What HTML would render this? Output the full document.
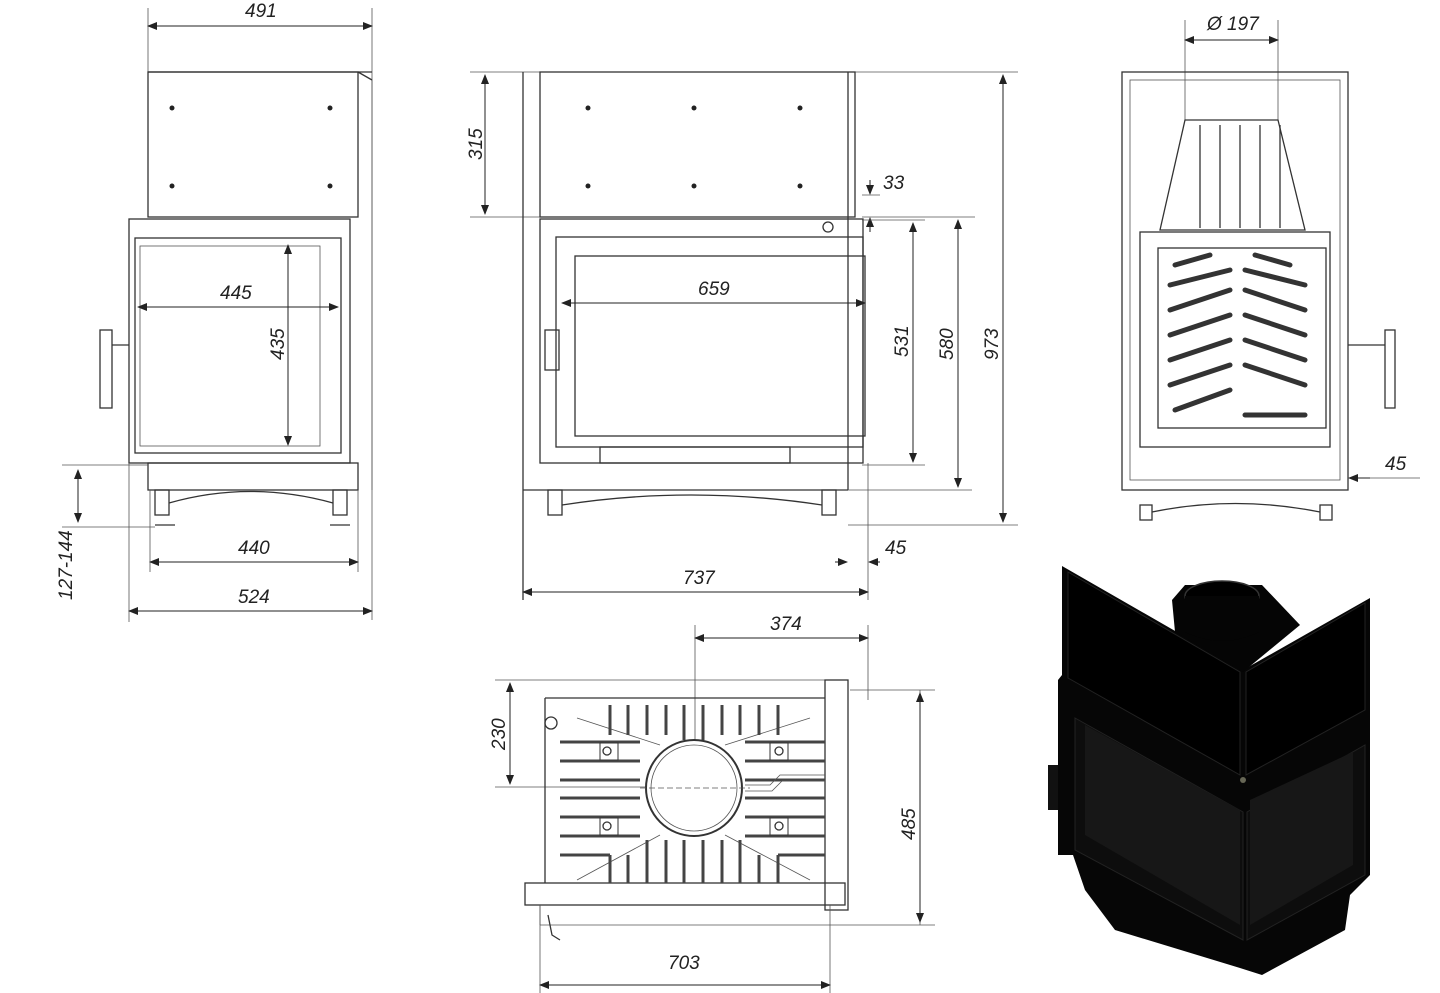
<!DOCTYPE html>
<html><head><meta charset="utf-8"><style>
html,body{margin:0;padding:0;background:#fff}
svg{display:block}
text{font-family:"Liberation Sans",sans-serif;font-style:italic;font-size:19px;fill:#222}
.l{stroke:#333;stroke-width:1.3;fill:none}
.t{stroke:#555;stroke-width:0.8;fill:none}
.d{stroke:#222;stroke-width:1;fill:none}
.f{stroke:#444;stroke-width:3;fill:none}
</style></head><body>
<svg width="1440" height="993" viewBox="0 0 1440 993" xmlns="http://www.w3.org/2000/svg">
<defs><marker id="a" markerWidth="10" markerHeight="8" refX="9" refY="4" orient="auto-start-reverse"><path d="M0,0 L10,4 L0,8z" fill="#222"/></marker></defs>

<!-- LEFT VIEW -->
<g>
<line class="t" x1="148" y1="8" x2="148" y2="72"/><line class="t" x1="372" y1="8" x2="372" y2="620"/>
<line class="d" x1="148" y1="26" x2="372" y2="26" marker-start="url(#a)" marker-end="url(#a)"/>
<text x="245" y="17">491</text>
<rect class="l" x="148" y="72" width="210" height="145"/>
<line class="l" x1="148" y1="72" x2="372" y2="72"/>
<line class="l" x1="358" y1="72" x2="372" y2="80"/>
<line class="t" x1="372" y1="80" x2="372" y2="490"/>
<g fill="#222"><circle cx="172" cy="108" r="2.5"/><circle cx="330" cy="108" r="2.5"/><circle cx="172" cy="186" r="2.5"/><circle cx="330" cy="186" r="2.5"/></g>
<rect class="l" x="129" y="219" width="221" height="244"/>
<rect class="l" x="135" y="238" width="206" height="215"/>
<rect class="t" x="140" y="246" width="180" height="200"/>
<rect class="l" x="100" y="330" width="12" height="78"/>
<line class="l" x1="112" y1="345" x2="129" y2="345"/>
<line class="d" x1="138" y1="307" x2="338" y2="307" marker-start="url(#a)" marker-end="url(#a)"/>
<text x="220" y="299">445</text>
<line class="d" x1="288" y1="245" x2="288" y2="445" marker-start="url(#a)" marker-end="url(#a)"/>
<text x="0" y="0" transform="translate(284,360) rotate(-90)">435</text>
<rect class="l" x="148" y="463" width="210" height="27"/>
<rect class="l" x="155" y="490" width="14" height="25"/><rect class="l" x="333" y="490" width="14" height="25"/>
<path class="l" d="M169,503 Q250,480 333,503"/>
<line class="l" x1="155" y1="525" x2="175" y2="525"/><line class="l" x1="330" y1="525" x2="350" y2="525"/>
<line class="t" x1="62" y1="465" x2="148" y2="465"/><line class="t" x1="62" y1="527" x2="155" y2="527"/>
<line class="d" x1="78" y1="470" x2="78" y2="522" marker-start="url(#a)" marker-end="url(#a)"/>
<text transform="translate(72,600) rotate(-90)">127-144</text>
<line class="t" x1="150" y1="490" x2="150" y2="572"/><line class="t" x1="358" y1="490" x2="358" y2="572"/>
<line class="d" x1="150" y1="562" x2="358" y2="562" marker-start="url(#a)" marker-end="url(#a)"/>
<text x="238" y="554">440</text>
<line class="t" x1="129" y1="463" x2="129" y2="622"/>
<line class="d" x1="129" y1="611" x2="372" y2="611" marker-start="url(#a)" marker-end="url(#a)"/>
<text x="238" y="603">524</text>
</g>

<!-- MIDDLE VIEW -->
<g>
<line class="t" x1="470" y1="72" x2="1018" y2="72"/>
<line class="t" x1="470" y1="217" x2="540" y2="217"/>
<line class="d" x1="485" y1="75" x2="485" y2="214" marker-start="url(#a)" marker-end="url(#a)"/>
<text transform="translate(482,160) rotate(-90)">315</text>
<rect class="l" x="540" y="72" width="315" height="145"/>
<line class="l" x1="523" y1="72" x2="523" y2="600"/>
<line class="l" x1="848" y1="72" x2="848" y2="490"/>
<g fill="#222"><circle cx="588" cy="108" r="2.5"/><circle cx="694" cy="108" r="2.5"/><circle cx="800" cy="108" r="2.5"/><circle cx="588" cy="186" r="2.5"/><circle cx="694" cy="186" r="2.5"/><circle cx="800" cy="186" r="2.5"/></g>
<rect class="l" x="540" y="219" width="323" height="244"/>
<rect class="l" x="556" y="237" width="307" height="210"/>
<rect class="l" x="575" y="256" width="290" height="180"/>
<circle class="l" cx="828" cy="227" r="5"/>
<rect class="l" x="545" y="330" width="14" height="40"/>
<rect class="l" x="600" y="447" width="190" height="16"/>
<line class="t" x1="862" y1="195" x2="880" y2="195"/><line class="t" x1="862" y1="217" x2="975" y2="217"/>
<line class="d" x1="870" y1="180" x2="870" y2="194" marker-end="url(#a)"/>
<line class="d" x1="870" y1="232" x2="870" y2="218" marker-end="url(#a)"/>
<text x="883" y="189">33</text>
<line class="d" x1="562" y1="303" x2="865" y2="303" marker-start="url(#a)" marker-end="url(#a)"/>
<text x="698" y="295">659</text>
<line class="t" x1="862" y1="220" x2="925" y2="220"/><line class="t" x1="862" y1="465" x2="925" y2="465"/>
<line class="d" x1="913" y1="223" x2="913" y2="462" marker-start="url(#a)" marker-end="url(#a)"/>
<text transform="translate(908,357) rotate(-90)">531</text>
<line class="t" x1="848" y1="490" x2="972" y2="490"/>
<line class="d" x1="958" y1="220" x2="958" y2="487" marker-start="url(#a)" marker-end="url(#a)"/>
<text transform="translate(953,360) rotate(-90)">580</text>
<line class="t" x1="848" y1="525" x2="1018" y2="525"/>
<line class="d" x1="1003" y1="75" x2="1003" y2="522" marker-start="url(#a)" marker-end="url(#a)"/>
<text transform="translate(998,360) rotate(-90)">973</text>
<line class="l" x1="523" y1="490" x2="848" y2="490"/>
<rect class="l" x="548" y="490" width="14" height="25"/><rect class="l" x="822" y="490" width="14" height="25"/>
<path class="l" d="M562,505 Q690,485 822,505"/>
<line class="t" x1="868" y1="463" x2="868" y2="600"/>
<line class="d" x1="835" y1="562" x2="847" y2="562" marker-end="url(#a)"/>
<line class="d" x1="880" y1="562" x2="869" y2="562" marker-end="url(#a)"/>
<text x="885" y="554">45</text>
<line class="d" x1="523" y1="592" x2="868" y2="592" marker-start="url(#a)" marker-end="url(#a)"/>
<text x="683" y="584">737</text>
</g>

<!-- RIGHT VIEW -->
<g>
<line class="t" x1="1185" y1="20" x2="1185" y2="120"/><line class="t" x1="1278" y1="20" x2="1278" y2="120"/>
<line class="d" x1="1185" y1="40" x2="1278" y2="40" marker-start="url(#a)" marker-end="url(#a)"/>
<text x="1207" y="30">Ø 197</text>
<rect class="l" x="1122" y="72" width="226" height="418"/>
<rect class="t" x="1130" y="80" width="210" height="400"/>
<path class="l" d="M1185,120 L1278,120 L1305,230 L1160,230z"/>
<g class="l"><line x1="1200" y1="125" x2="1200" y2="228"/><line x1="1220" y1="125" x2="1220" y2="228"/><line x1="1240" y1="125" x2="1240" y2="228"/><line x1="1260" y1="125" x2="1260" y2="228"/><line x1="1280" y1="125" x2="1280" y2="228"/></g>
<rect class="l" x="1140" y="232" width="190" height="215"/>
<rect class="l" x="1158" y="248" width="168" height="180"/>
<g stroke="#333" stroke-width="5" fill="none" stroke-linecap="round">
<path d="M1175,265 L1210,255 M1255,255 L1290,265"/>
<path d="M1170,285 L1230,270 M1245,270 L1305,285"/>
<path d="M1170,310 L1230,290 M1245,290 L1305,310"/>
<path d="M1170,335 L1230,315 M1245,315 L1305,335"/>
<path d="M1170,360 L1230,340 M1245,340 L1305,360"/>
<path d="M1170,385 L1230,365 M1245,365 L1305,385"/>
<path d="M1175,410 L1230,390 M1245,415 L1305,415"/>
</g>
<rect class="l" x="1385" y="330" width="10" height="78"/>
<line class="l" x1="1348" y1="345" x2="1385" y2="345"/>
<rect class="l" x="1140" y="505" width="12" height="15"/><rect class="l" x="1320" y="505" width="12" height="15"/>
<path class="l" d="M1152,512 Q1235,495 1320,512"/>
<line class="t" x1="1348" y1="478" x2="1420" y2="478"/>
<line class="d" x1="1370" y1="478" x2="1349" y2="478" marker-end="url(#a)"/>
<text x="1385" y="470">45</text>
</g>

<!-- BOTTOM VIEW -->
<g>
<line class="t" x1="695" y1="625" x2="695" y2="790"/><line class="t" x1="868" y1="625" x2="868" y2="700"/>
<line class="d" x1="695" y1="638" x2="868" y2="638" marker-start="url(#a)" marker-end="url(#a)"/>
<text x="770" y="630">374</text>
<line class="t" x1="495" y1="680" x2="848" y2="680"/><line class="t" x1="495" y1="787" x2="650" y2="787"/>
<line class="d" x1="510" y1="683" x2="510" y2="784" marker-start="url(#a)" marker-end="url(#a)"/>
<text transform="translate(505,750) rotate(-90)">230</text>
<path class="l" d="M545,698 L825,698 M545,698 L545,883"/>
<rect class="l" x="825" y="680" width="23" height="230"/>
<rect class="l" x="525" y="883" width="320" height="22"/>
<line class="t" x1="540" y1="905" x2="540" y2="925"/><line class="t" x1="540" y1="925" x2="835" y2="925"/>
<line class="t" x1="577" y1="718" x2="660" y2="745"/><line class="t" x1="810" y1="718" x2="725" y2="745"/>
<line class="t" x1="577" y1="880" x2="660" y2="835"/><line class="t" x1="810" y1="880" x2="725" y2="835"/>
<g class="f">
<line x1="610" y1="705" x2="610" y2="735"/><line x1="628" y1="705" x2="628" y2="735"/><line x1="647" y1="705" x2="647" y2="735"/><line x1="666" y1="705" x2="666" y2="735"/><line x1="684" y1="705" x2="684" y2="740"/><line x1="703" y1="705" x2="703" y2="740"/><line x1="722" y1="705" x2="722" y2="735"/><line x1="740" y1="705" x2="740" y2="735"/><line x1="759" y1="705" x2="759" y2="735"/><line x1="778" y1="705" x2="778" y2="735"/>
<line x1="610" y1="855" x2="610" y2="883"/><line x1="628" y1="855" x2="628" y2="883"/><line x1="647" y1="840" x2="647" y2="883"/><line x1="666" y1="840" x2="666" y2="883"/><line x1="684" y1="840" x2="684" y2="883"/><line x1="703" y1="840" x2="703" y2="883"/><line x1="722" y1="840" x2="722" y2="883"/><line x1="740" y1="840" x2="740" y2="883"/><line x1="759" y1="855" x2="759" y2="883"/><line x1="778" y1="855" x2="778" y2="883"/>
<line x1="560" y1="742" x2="640" y2="742"/><line x1="560" y1="761" x2="640" y2="761"/><line x1="560" y1="780" x2="640" y2="780"/><line x1="560" y1="798" x2="640" y2="798"/><line x1="560" y1="817" x2="640" y2="817"/><line x1="560" y1="836" x2="640" y2="836"/><line x1="560" y1="855" x2="610" y2="855"/>
<line x1="745" y1="742" x2="825" y2="742"/><line x1="745" y1="761" x2="825" y2="761"/><line x1="745" y1="780" x2="825" y2="780"/><line x1="745" y1="798" x2="825" y2="798"/><line x1="745" y1="817" x2="825" y2="817"/><line x1="745" y1="836" x2="825" y2="836"/><line x1="778" y1="855" x2="825" y2="855"/>
</g>
<rect x="600" y="743" width="18" height="17" fill="#fff" stroke="#333"/><circle class="l" cx="607" cy="751" r="4"/>
<rect x="770" y="743" width="18" height="17" fill="#fff" stroke="#333"/><circle class="l" cx="779" cy="751" r="4"/>
<rect x="600" y="818" width="18" height="17" fill="#fff" stroke="#333"/><circle class="l" cx="607" cy="826" r="4"/>
<rect x="770" y="818" width="18" height="17" fill="#fff" stroke="#333"/><circle class="l" cx="779" cy="826" r="4"/>
<circle cx="694" cy="788" r="48" fill="#fff" stroke="#333" stroke-width="2"/>
<circle class="t" cx="694" cy="788" r="43"/>
<line class="t" x1="640" y1="788" x2="750" y2="788" stroke-dasharray="6,3"/>
<path class="t" d="M745,785 L770,785 L780,775 L825,775 M745,791 L772,791 L782,781 L825,781"/>
<circle class="l" cx="551" cy="723" r="6"/>
<line class="t" x1="920" y1="690" x2="920" y2="925"/>
<line class="t" x1="850" y1="690" x2="935" y2="690"/><line class="t" x1="835" y1="925" x2="935" y2="925"/>
<line class="d" x1="920" y1="693" x2="920" y2="922" marker-start="url(#a)" marker-end="url(#a)"/>
<text transform="translate(915,840) rotate(-90)">485</text>
<path class="l" d="M548,915 L552,935 L560,940"/>
<line class="t" x1="540" y1="905" x2="540" y2="995"/><line class="t" x1="830" y1="905" x2="830" y2="995"/>
<line class="d" x1="540" y1="985" x2="830" y2="985" marker-start="url(#a)" marker-end="url(#a)"/>
<text x="668" y="969">703</text>
</g>

<!-- 3D RENDER -->
<g>
<path d="M1062,566 L1243,670 L1370,598 L1370,875 L1350,895 L1345,930 L1262,975 L1240,968 L1115,930 L1085,890 L1073,855 L1058,855 L1058,680 L1062,675z" fill="#060606"/>
<path d="M1172,600 L1185,585 L1262,585 L1300,625 L1243,672 L1175,632z" fill="#050505"/>
<path d="M1068,572 L1240,672 L1240,775 L1068,678z" fill="#000" stroke="#222"/>
<path d="M1246,672 L1365,603 L1365,710 L1246,775z" fill="#000" stroke="#222"/>
<ellipse cx="1222" cy="596" rx="37" ry="15" fill="#000" stroke="#333" stroke-width="1.5"/>
<path d="M1185,596 L1185,632 Q1222,650 1259,632 L1259,596" fill="#050505"/>
<path d="M1075,718 L1243,812 L1243,940 L1075,850z" fill="#0d0d0d" stroke="#222"/>
<path d="M1085,725 L1240,810 L1240,925 L1085,835z" fill="#171717"/>
<path d="M1247,812 L1365,745 L1365,875 L1247,940z" fill="#0d0d0d" stroke="#222"/>
<path d="M1250,800 L1353,752 L1353,865 L1250,925z" fill="#171717"/>
<rect x="1048" y="765" width="10" height="45" fill="#111"/>
<circle cx="1243" cy="780" r="3" fill="#665"/>
</g>
</svg>
</body></html>
